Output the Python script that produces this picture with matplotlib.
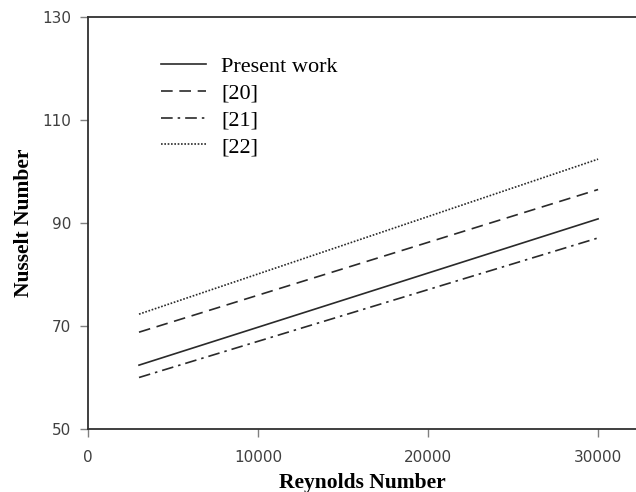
import matplotlib
matplotlib.use("Agg")
import matplotlib.pyplot as plt

re_vals = [3000, 30000]
present_work = [62.4, 90.8]
ref20 = [68.8, 96.5]
ref21 = [60.0, 87.1]
ref22 = [72.3, 102.4]
labels = ["Present work", "[20]", "[21]", "[22]"]
xticks = [0, 10000, 20000, 30000]
yticks = [50, 70, 90, 110, 130]

fig = plt.figure(figsize=(6.36, 4.92), dpi=100)
ax = fig.add_axes([88/636, 63/492, 1 - 88/636, (429-17)/492])

col = "#2a2a2a"
ax.plot(re_vals, present_work, color=col, lw=1.2, ls="-", label=labels[0])
ax.plot(re_vals, ref20, color=col, lw=1.2, ls=(0, (7, 4)), label=labels[1])
ax.plot(re_vals, ref21, color=col, lw=1.2, ls=(0, (7, 3, 1.5, 3)), label=labels[2])
ax.plot(re_vals, ref22, color=col, lw=1.2, ls=(0, (1, 1)), label=labels[3])

ax.set_xlim(0, 32230)
ax.set_ylim(50, 130)
ax.set_xticks(xticks)
ax.set_yticks(yticks)
ax.tick_params(axis="both", labelsize=11, labelcolor="#404040", color="#808080",
               length=6, width=1, direction="out")
ax.tick_params(axis="x", pad=9)
ax.tick_params(axis="y", pad=6)
for s in ["left", "bottom", "top"]:
    ax.spines[s].set_color("#303030")
    ax.spines[s].set_linewidth(1.3)
ax.spines["right"].set_visible(False)

ax.set_xlabel("Reynolds Number", family="Liberation Serif", fontweight="bold", fontsize=15.5, labelpad=6)
ax.set_ylabel("Nusselt Number", family="Liberation Serif", fontweight="bold", fontsize=15.5, labelpad=6)

leg = ax.legend(loc="upper left", bbox_to_anchor=(0.097, 0.953), frameon=False,
                prop={"family": "Liberation Serif", "size": 16}, handlelength=2.0,
                handletextpad=0.7, labelspacing=0.28)

fig.savefig("out.png", dpi=100)
